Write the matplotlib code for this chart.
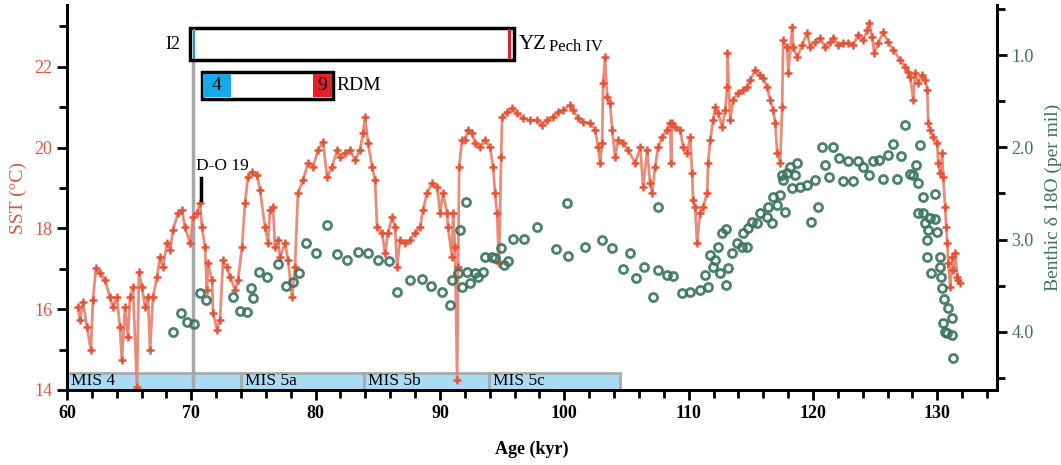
import matplotlib
matplotlib.use("Agg")
import matplotlib.pyplot as plt
from matplotlib.patches import Rectangle

# SST record (age in kyr, SST in deg C)
sst_age = [60.88, 61.05, 61.29, 61.61, 61.93, 62.09, 62.33, 62.65, 63.06, 63.46,
           63.70, 64.02, 64.26, 64.42, 64.67, 64.91, 65.07, 65.31, 65.63, 65.79,
           66.03, 66.28, 66.52, 66.68, 66.92, 67.24, 67.48, 67.72, 68.05, 68.29,
           68.53, 68.93, 69.25, 69.49, 69.90, 70.14, 70.46, 70.70, 70.86, 71.10,
           71.26, 71.34, 71.67, 71.75, 72.07, 72.31, 72.55, 72.87, 73.11, 73.52,
           73.76, 74.08, 74.32, 74.56, 74.88, 75.29, 75.53, 75.93, 76.17, 76.33,
           76.57, 76.73, 76.97, 77.14, 77.54, 77.78, 78.10, 78.34, 78.58, 78.99,
           79.39, 79.79, 80.19, 80.60, 80.92, 81.32, 81.72, 81.96, 82.37, 82.77,
           83.17, 83.57, 83.81, 83.97, 84.22, 84.54, 84.78, 84.94, 85.34, 85.58,
           85.82, 86.15, 86.39, 86.55, 86.79, 87.19, 87.59, 88.00, 88.40, 88.64,
           88.96, 89.36, 89.77, 90.01, 90.25, 90.57, 90.65, 90.97, 91.05, 91.21,
           91.38, 91.46, 91.54, 91.78, 92.02, 92.26, 92.58, 92.82, 93.23, 93.63,
           94.03, 94.27, 94.43, 94.59, 94.75, 94.92, 95.00, 95.40, 95.80, 96.20,
           96.69, 97.25, 97.81, 98.21, 98.62, 99.10, 99.50, 99.90, 100.47, 100.71,
           101.11, 101.51, 102.08, 102.48, 102.72, 102.88, 103.04, 103.12, 103.28, 103.44,
           103.68, 103.85, 104.09, 104.33, 104.73, 105.13, 105.70, 106.11, 106.34, 106.66,
           106.90, 107.06, 107.30, 107.55, 107.87, 108.27, 108.51, 108.59, 108.67, 108.91,
           109.32, 109.56, 109.88, 110.12, 110.28, 110.36, 110.52, 110.68, 110.92, 111.17,
           111.49, 111.57, 111.73, 111.97, 112.13, 112.37, 112.70, 112.94, 113.10, 113.12,
           113.34, 113.58, 113.98, 114.38, 114.71, 114.95, 115.35, 115.75, 115.99, 116.32,
           116.56, 116.80, 116.96, 117.12, 117.36, 117.52, 117.60, 117.92, 118.01, 118.33,
           118.41, 118.73, 119.13, 119.53, 119.77, 120.18, 120.58, 120.98, 121.38, 121.63,
           122.03, 122.43, 122.83, 123.23, 123.64, 124.04, 124.36, 124.52, 124.76, 124.92,
           125.25, 125.65, 126.05, 126.45, 127.02, 127.42, 127.66, 127.82, 128.06, 128.22,
           128.46, 128.78, 129.03, 129.19, 129.27, 129.43, 129.67, 129.99, 130.07, 130.23,
           130.39, 130.47, 130.63, 130.72, 130.80, 130.88, 131.04, 131.20, 131.28, 131.44,
           131.60, 131.68, 131.84]
sst = [16.05, 15.73, 16.18, 15.56, 14.99, 16.23, 17.02, 16.90, 16.72, 16.30,
       16.05, 16.30, 15.56, 14.74, 16.05, 15.31, 16.30, 16.55, 14.07, 16.92,
       16.55, 16.05, 16.30, 14.99, 16.30, 16.80, 17.29, 17.04, 17.64, 17.47,
       17.96, 18.38, 18.46, 18.03, 17.64, 18.28, 18.38, 18.63, 18.03, 17.54,
       16.48, 17.14, 16.72, 15.91, 15.49, 15.73, 17.22, 17.04, 16.80, 16.48,
       16.72, 17.54, 18.63, 19.27, 19.40, 19.32, 18.95, 18.03, 17.64, 18.46,
       18.53, 17.54, 17.71, 17.29, 17.64, 17.22, 16.30, 17.04, 18.88, 19.20,
       19.62, 19.52, 19.94, 20.14, 19.27, 19.52, 19.94, 19.77, 19.87, 19.94,
       19.69, 19.94, 20.36, 20.76, 20.11, 19.52, 19.20, 18.03, 17.89, 17.39,
       17.89, 18.28, 18.03, 17.04, 17.71, 17.64, 17.71, 17.89, 18.03, 18.46,
       18.88, 19.12, 19.02, 18.38, 18.88, 18.38, 18.03, 17.29, 18.38, 17.54,
       14.25, 17.04, 19.52, 20.19, 20.19, 20.44, 20.36, 20.11, 20.01, 20.19,
       20.01, 19.52, 18.88, 18.38, 17.14, 19.77, 20.76, 20.88, 20.98, 20.86,
       20.73, 20.68, 20.68, 20.56, 20.68, 20.76, 20.88, 20.93, 21.05, 20.93,
       20.73, 20.63, 20.61, 20.44, 20.01, 19.62, 20.11, 21.60, 22.24, 21.25,
       21.10, 20.44, 19.77, 20.19, 20.11, 19.94, 19.62, 20.01, 19.02, 19.94,
       19.12, 18.88, 19.52, 20.01, 20.26, 20.44, 20.61, 19.62, 20.61, 20.51,
       20.44, 20.01, 19.87, 20.26, 19.37, 18.70, 18.53, 17.64, 18.38, 18.53,
       18.88, 19.62, 20.19, 20.68, 21.00, 20.86, 20.51, 20.93, 21.50, 22.34,
       20.68, 21.18, 21.35, 21.43, 21.50, 21.67, 21.92, 21.80, 21.72, 21.50,
       21.18, 20.93, 20.61, 19.87, 19.62, 21.00, 22.66, 22.49, 21.85, 22.99,
       22.49, 22.24, 22.54, 22.84, 22.49, 22.61, 22.71, 22.49, 22.61, 22.71,
       22.54, 22.59, 22.59, 22.54, 22.79, 22.66, 22.91, 23.08, 22.74, 22.34,
       22.59, 22.86, 22.61, 22.42, 22.17, 22.00, 21.87, 21.75, 21.18, 21.85,
       21.60, 21.80, 21.67, 21.43, 20.61, 20.44, 20.26, 20.11, 19.62, 19.37,
       19.87, 19.27, 18.53, 18.03, 17.64, 17.14, 16.55, 17.29, 16.97, 17.39,
       16.80, 16.72, 16.65]

# benthic d18O record (age in kyr, per mil)
d18o_age = [68.53, 69.17, 69.65, 70.22, 70.70, 71.18, 73.35, 73.92, 74.48, 74.80,
            74.96, 75.45, 76.09, 76.97, 77.62, 78.18, 78.66, 79.23, 80.03, 80.92,
            81.72, 82.53, 83.41, 84.22, 85.02, 85.91, 86.55, 87.59, 88.56, 89.28,
            90.17, 90.81, 90.97, 91.46, 91.62, 91.78, 92.10, 92.18, 92.42, 92.82,
            93.07, 93.47, 93.63, 94.19, 94.43, 94.92, 95.16, 95.48, 95.88, 96.77,
            97.81, 99.34, 100.23, 100.31, 101.67, 103.04, 103.85, 104.73, 105.29, 105.78,
            106.42, 107.14, 107.55, 107.55, 108.27, 108.75, 109.48, 110.12, 110.92, 111.33,
            111.57, 111.73, 111.97, 112.13, 112.37, 112.53, 112.70, 113.02, 113.02, 113.18,
            113.50, 113.90, 114.30, 114.38, 114.71, 114.79, 115.11, 115.51, 115.75, 116.32,
            116.40, 116.72, 116.80, 117.12, 117.36, 117.52, 117.60, 117.76, 117.92, 118.17,
            118.33, 118.57, 118.73, 118.97, 119.53, 119.86, 120.18, 120.42, 120.74, 120.98,
            121.30, 121.63, 122.11, 122.43, 122.83, 123.23, 123.64, 124.04, 124.52, 124.84,
            125.33, 125.65, 126.05, 126.45, 126.77, 127.10, 127.42, 127.82, 128.06, 128.30,
            128.46, 128.62, 128.87, 128.46, 128.87, 129.03, 129.43, 129.83, 129.83, 129.27,
            129.99, 129.19, 129.19, 130.23, 129.51, 130.23, 130.31, 130.39, 130.55, 130.88,
            130.47, 131.20, 130.63, 131.20, 130.80, 131.28]
d18o = [4.00, 3.80, 3.89, 3.91, 3.58, 3.65, 3.62, 3.77, 3.78, 3.52,
        3.63, 3.35, 3.41, 3.26, 3.50, 3.46, 3.36, 3.04, 3.15, 2.84,
        3.16, 3.22, 3.13, 3.15, 3.22, 3.23, 3.57, 3.44, 3.43, 3.50,
        3.57, 3.71, 3.44, 3.36, 2.90, 3.51, 2.59, 3.35, 3.47, 3.36,
        3.41, 3.35, 3.19, 3.19, 3.20, 3.09, 3.28, 3.23, 2.99, 2.99,
        2.86, 3.10, 2.60, 3.18, 3.08, 3.00, 3.09, 3.32, 3.15, 3.42,
        3.30, 3.62, 2.65, 3.33, 3.38, 3.40, 3.58, 3.57, 3.55, 3.38,
        3.51, 3.17, 3.30, 3.22, 3.08, 3.36, 2.93, 2.89, 3.49, 3.31,
        3.15, 3.04, 3.08, 2.93, 3.08, 2.87, 2.81, 2.82, 2.71, 2.76,
        2.65, 2.82, 2.54, 2.63, 2.52, 2.30, 2.35, 2.70, 2.28, 2.21,
        2.44, 2.30, 2.17, 2.43, 2.41, 2.81, 2.35, 2.65, 2.00, 2.19,
        2.32, 2.00, 2.12, 2.37, 2.15, 2.37, 2.15, 2.21, 2.30, 2.15,
        2.14, 2.34, 2.08, 1.96, 2.34, 2.09, 1.76, 2.29, 2.30, 2.19,
        2.39, 1.98, 2.54, 2.71, 2.71, 2.82, 2.77, 2.51, 2.78, 2.90,
        2.92, 3.00, 3.19, 3.19, 3.36, 3.30, 3.41, 3.52, 3.64, 3.74,
        3.90, 3.85, 4.00, 4.03, 4.01, 4.28]

# marine isotope stages along the bottom
mis_names = ["MIS 4", "MIS 5a", "MIS 5b", "MIS 5c"]
mis_start = [60.0, 74.0, 83.9, 93.95]
mis_end = [74.0, 83.9, 93.95, 104.5]

red = "#e2553a"
green = "#3b7461"
plt.rcParams["font.family"] = ["Liberation Serif", "DejaVu Serif"]

fig = plt.figure(figsize=(10.61, 4.65), dpi=100)
ax = fig.add_axes([0.0631, 0.1613, 0.8766, 0.8279])
ax2 = ax.twinx()

ax.plot(sst_age, sst, color="#e8806a", lw=2.0, alpha=0.9, zorder=4)
ax.plot(sst_age, sst, ls="none", marker="+", ms=5.5, mew=1.8, color=red,
        zorder=5)
ax2.plot(d18o_age, d18o, ls="none", marker="o", ms=5.8, mfc="none",
         mec=green, mew=2.0, alpha=0.9)

ax.set_xlim(60, 134.8)
ax.set_ylim(14, 23.53)
ax2.set_ylim(4.63, 0.458)

for sp in ["left", "bottom", "right"]:
    ax.spines[sp].set_linewidth(2)
    ax2.spines[sp].set_linewidth(2)
ax.spines["top"].set_visible(False)
ax2.spines["top"].set_visible(False)

ax.set_xticks(range(60, 131, 10))
ax.set_xticks(range(60, 135, 2), minor=True)
ax.set_yticks(range(14, 23, 2))
ax.set_yticks(range(15, 24, 2), minor=True)
ax2.set_yticks([1.0, 2.0, 3.0, 4.0])
ax2.set_yticklabels(["1.0", "2.0", "3.0", "4.0"])
ax2.set_yticks([0.5, 1.5, 2.5, 3.5, 4.5], minor=True)

ax.tick_params(axis="x", which="major", length=7, width=2, labelsize=13)
ax.tick_params(axis="x", which="minor", length=6, width=2)
ax.tick_params(axis="y", which="major", length=7, width=2, labelsize=13,
               labelcolor=red)
ax.tick_params(axis="y", which="minor", length=6, width=2)
ax2.tick_params(axis="y", which="major", length=7, width=2, labelsize=13,
                labelcolor=green)
ax2.tick_params(axis="y", which="minor", length=6, width=2)
for t in ax.get_xticklabels():
    t.set_fontweight("bold")

ax.set_xlabel("Age (kyr)", fontsize=13, fontweight="bold", labelpad=14)
ax.set_ylabel("SST (°C)", fontsize=14, color=red, labelpad=5)
ax2.set_ylabel("Benthic δ 18O (per mil)", fontsize=14, color=green,
               labelpad=8)

# MIS bars
for name, s, e in zip(mis_names, mis_start, mis_end):
    ax.add_patch(Rectangle((s, 14.0), e - s, 0.42, facecolor="#a9dcf4",
                           edgecolor="#aaaaaa", lw=2, zorder=2))
    ax.text(s + 0.3, 14.02, name, fontsize=12.5, va="bottom", ha="left",
            zorder=3)

# site boxes at the top
ax.plot([70.1, 70.1], [14.0, 22.17], color="#a8a8a8", lw=2.5, zorder=3)
ax.add_patch(Rectangle((69.9, 22.17), 26.05, 0.79, facecolor="white",
                       edgecolor="black", lw=2.5, zorder=6))
ax.add_patch(Rectangle((70.1, 22.2), 0.22, 0.73, facecolor="#1b9ce0",
                       edgecolor="none", zorder=7))
ax.add_patch(Rectangle((95.45, 22.2), 0.25, 0.73, facecolor="#e01f26",
                       edgecolor="none", zorder=7))
ax.text(69.1, 22.55, "I2", fontsize=13, ha="right", va="center")
ax.text(96.3, 22.55, "YZ", fontsize=15, ha="left", va="center")
ax.text(98.8, 22.5, "Pech IV", fontsize=12, ha="left", va="center")

ax.add_patch(Rectangle((70.85, 21.2), 10.55, 0.68, facecolor="white",
                       edgecolor="black", lw=2.5, zorder=6))
ax.add_patch(Rectangle((70.95, 21.25), 2.25, 0.58, facecolor="#17a8e8",
                       edgecolor="none", zorder=7))
ax.add_patch(Rectangle((79.8, 21.25), 1.5, 0.58, facecolor="#e61e28",
                       edgecolor="none", zorder=7))
ax.text(72.05, 21.55, "4", fontsize=14, ha="center", va="center", zorder=8)
ax.text(80.55, 21.55, "9", fontsize=14, ha="center", va="center", zorder=8)
ax.text(81.7, 21.55, "RDM", fontsize=14, ha="left", va="center")

# D-O 19 marker
ax.plot([70.8, 70.8], [18.7, 19.25], color="black", lw=2.5, zorder=6)
ax.text(70.4, 19.35, "D-O 19", fontsize=12.5, ha="left", va="bottom")

fig.savefig("out.png", dpi=100)
